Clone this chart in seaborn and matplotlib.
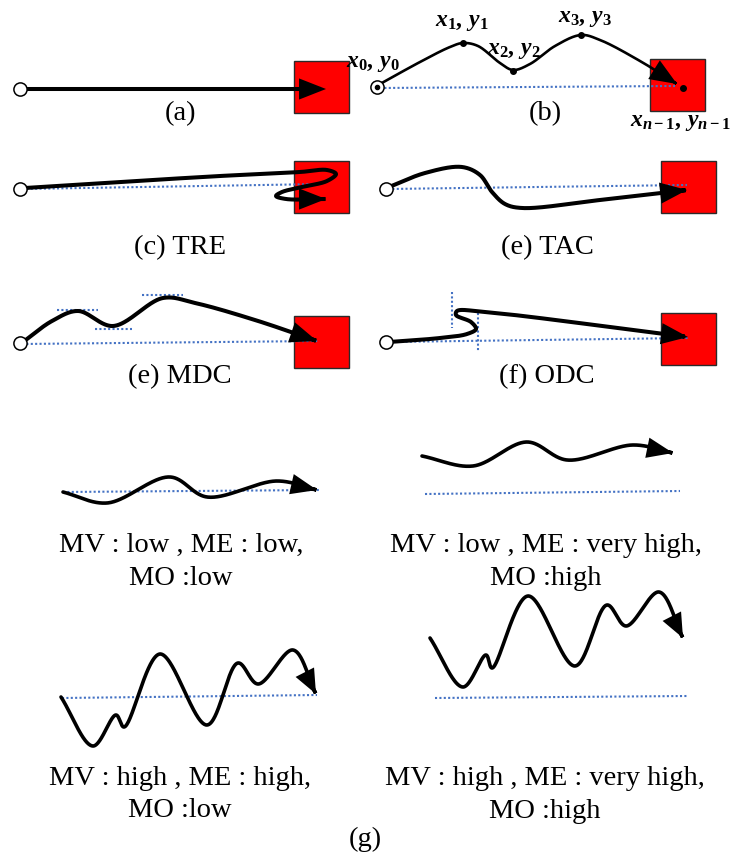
import numpy as np
import matplotlib
matplotlib.use("Agg")
import matplotlib.pyplot as plt
import seaborn as sns
from matplotlib.patches import Rectangle, FancyArrowPatch
from matplotlib.path import Path

# ---------------- data (pixel-space control points) ----------------
A_PATH = [(25, 89), (326, 89)]
B_PATH = [(380, 84), (420, 62), (450, 47), (463, 43), (478, 46), (500, 63), (513, 70),
          (530, 64), (555, 46), (581, 35), (600, 40), (640, 61), (677, 84)]
B_POINTS_X = [463, 513, 581, 683]
B_POINTS_Y = [43, 71, 35, 88]
B_LABELS = [r"$x_0,\,y_0$", r"$x_1,\,y_1$", r"$x_2,\,y_2$", r"$x_3,\,y_3$", r"$x_{n-1},\,y_{n-1}$"]
B_LABEL_X = [373, 462, 514, 585, 681]
B_LABEL_Y = [63, 22, 50, 18, 122]

TRE_PATH = [(25, 188), (120, 182), (220, 176), (300, 172), (327, 170), (336, 174),
            (327, 181), (302, 187), (282, 192), (276, 196), (286, 199), (326, 199)]
TAC_PATH = [(389, 187), (425, 173), (462, 167), (480, 175), (492, 192),
            (505, 204), (522, 208), (600, 200), (687, 190)]
MDC_PATH = [(23, 342), (52, 321), (78, 311), (113, 326), (163, 298),
            (195, 303), (255, 320), (317, 341)]
ODC_PATH = [(389, 342), (440, 338), (467, 334), (476, 329), (471, 322), (456, 315),
            (457, 311), (485, 312), (688, 337)]

G1_PATH = [(63, 492), (107, 503), (170, 477), (207, 497), (277, 481), (317, 490)]
G2_PATH = [(422, 456), (473, 466), (527, 442), (567, 460), (633, 445), (673, 453)]
G3_PATH = [(61, 697), (93, 746), (116, 715), (124, 727), (160, 654),
           (207, 725), (238, 663), (258, 684), (293, 650), (316, 694)]
G4_PATH = [(430, 638), (463, 687), (486, 655), (492, 668), (528, 596),
           (575, 666), (607, 605), (626, 626), (659, 592), (683, 638)]

DOTTED_LINES = [
    [(380, 88), (675, 86)],          # b
    [(22, 189), (322, 184)],         # c
    [(388, 189), (687, 185)],        # TAC
    [(22, 344), (318, 341)],         # MDC base
    [(57, 310), (98, 310)],
    [(95, 329), (132, 329)],
    [(142, 295), (183, 295)],
    [(388, 342), (688, 338)],        # ODC base
    [(452, 292), (452, 328)],
    [(478, 313), (478, 352)],
    [(63, 492), (320, 490)],         # g1
    [(425, 494), (680, 491)],        # g2
    [(62, 698), (317, 695)],         # g3
    [(435, 698), (688, 696)],        # g4
]

START_X = [20, 377, 20, 386, 20, 386]
START_Y = [89, 87, 189, 189, 343, 342]

SQUARE_X = [321.5, 677.5, 321.5, 688, 321.5, 688]
SQUARE_Y = [87, 85, 186.5, 186.5, 341.5, 339]

PANEL_LABELS = ["(a)", "(b)", "(c) TRE", "(e) TAC", "(e) MDC", "(f) ODC"]
PANEL_LABEL_X = [180, 545, 180, 547, 180, 547]
PANEL_LABEL_Y = [114, 114, 248, 248, 377, 377]

G_LINE1 = ["MV : low , ME : low,", "MV : low , ME : very high,",
           "MV : high , ME : high,", "MV : high , ME : very high,"]
G_LINE2 = ["MO :low", "MO :high", "MO :low", "MO :high"]
G_TEXT_X = [181, 546, 180, 545]
G_LINE1_Y = [552, 552, 785, 785]
G_LINE2_Y = [585, 585, 817, 818]


# ---------------- helpers ----------------
def smooth(pts, n=60, alpha=0.5):
    """Centripetal Catmull-Rom spline through the control points."""
    P = np.asarray(pts, float)
    P = np.vstack([2 * P[0] - P[1], P, 2 * P[-1] - P[-2]])
    out = []
    for i in range(1, len(P) - 2):
        p0, p1, p2, p3 = P[i - 1], P[i], P[i + 1], P[i + 2]
        t0 = 0.0
        t1 = t0 + np.linalg.norm(p1 - p0) ** alpha
        t2 = t1 + np.linalg.norm(p2 - p1) ** alpha
        t3 = t2 + np.linalg.norm(p3 - p2) ** alpha
        t = np.linspace(t1, t2, n, endpoint=False)[:, None]
        A1 = (t1 - t) / (t1 - t0) * p0 + (t - t0) / (t1 - t0) * p1
        A2 = (t2 - t) / (t2 - t1) * p1 + (t - t1) / (t2 - t1) * p2
        A3 = (t3 - t) / (t3 - t2) * p2 + (t - t2) / (t3 - t2) * p3
        B1 = (t2 - t) / (t2 - t0) * A1 + (t - t0) / (t2 - t0) * A2
        B2 = (t3 - t) / (t3 - t1) * A2 + (t - t1) / (t3 - t1) * A3
        out.append((t2 - t) / (t2 - t1) * B1 + (t - t1) / (t2 - t1) * B2)
    out.append(P[-2][None, :])
    return np.vstack(out)


def draw_curve(ax, pts, lw=2.7, head_len=14, head_w=5.5):
    c = smooth(pts)
    s = np.r_[0, np.cumsum(np.hypot(*np.diff(c, axis=0).T))]
    L = s[-1]
    body = c[s <= L - 8]
    sns.lineplot(x=body[:, 0], y=body[:, 1], sort=False, estimator=None,
                 color="black", lw=lw, ax=ax, solid_capstyle="round",
                 solid_joinstyle="round", zorder=3)
    i = max(np.searchsorted(s, L - 20) - 1, 0)
    tip = c[i:]
    arr = FancyArrowPatch(path=Path(tip),
                          arrowstyle=f"-|>,head_length={head_len},head_width={head_w}",
                          mutation_scale=1, lw=lw, color="black", zorder=3,
                          joinstyle="miter")
    ax.add_patch(arr)


# ---------------- figure ----------------
sns.set_theme(style="white")
plt.rcParams["font.family"] = ["Liberation Serif", "DejaVu Serif"]
plt.rcParams["mathtext.fontset"] = "custom"
plt.rcParams["mathtext.it"] = "Liberation Serif:italic:bold"
plt.rcParams["mathtext.rm"] = "Liberation Serif:bold"
plt.rcParams["mathtext.bf"] = "Liberation Serif:bold"

fig = plt.figure(figsize=(7.3, 8.56), dpi=100)
fig.patch.set_facecolor("white")
ax = fig.add_axes([0, 0, 1, 1])
ax.set_facecolor("white")

# red target squares
for cx, cy in zip(SQUARE_X, SQUARE_Y):
    ax.add_patch(Rectangle((cx - 27.5, cy - 26), 55, 52, facecolor="#ff0000",
                           edgecolor="#2a2a2a", lw=1.0, zorder=1))

# dotted blue reference lines
for seg in DOTTED_LINES:
    xs, ys = zip(*seg)
    sns.lineplot(x=list(xs), y=list(ys), sort=False, estimator=None, color="#4472c4",
                 lw=1.5, linestyle=(0, (1, 1.1)), ax=ax, zorder=2)

# trajectories
draw_curve(ax, A_PATH, lw=2.9)
draw_curve(ax, B_PATH, lw=1.9, head_len=16, head_w=6.5)
draw_curve(ax, TRE_PATH, lw=2.9)
draw_curve(ax, TAC_PATH, lw=2.9)
draw_curve(ax, MDC_PATH, lw=2.9)
draw_curve(ax, ODC_PATH, lw=2.9)
draw_curve(ax, G1_PATH, lw=2.6, head_len=14, head_w=5.5)
draw_curve(ax, G2_PATH, lw=2.6, head_len=14, head_w=5.5)
draw_curve(ax, G3_PATH, lw=2.6, head_len=13, head_w=5.5)
draw_curve(ax, G4_PATH, lw=2.6, head_len=13, head_w=5.5)

# start circles
ax.plot(START_X, START_Y, ls="none", marker="o", ms=9.5, mfc="white", mec="black",
        mew=1.1, zorder=5)
ax.plot([START_X[1]], [START_Y[1]], ls="none", marker="o", ms=3, color="black", zorder=6)

# sample points in (b)
ax.plot(B_POINTS_X, B_POINTS_Y, ls="none", marker="o", ms=4, color="black", zorder=6)
for lab, x, y in zip(B_LABELS, B_LABEL_X, B_LABEL_Y):
    ax.text(x, y, lab, fontsize=17, ha="center", va="center", color="black", zorder=7)

# panel labels
for lab, x, y in zip(PANEL_LABELS, PANEL_LABEL_X, PANEL_LABEL_Y):
    ax.text(x, y, lab, fontsize=20.5, ha="center", va="center", color="black")

for l1, l2, x, y1, y2 in zip(G_LINE1, G_LINE2, G_TEXT_X, G_LINE1_Y, G_LINE2_Y):
    ax.text(x, y1, l1, fontsize=20.5, ha="center", va="baseline", color="black")
    ax.text(x, y2, l2, fontsize=20.5, ha="center", va="baseline", color="black")

ax.text(365, 846, "(g)", fontsize=20.5, ha="center", va="baseline", color="black")

ax.set_xlim(0, 730)
ax.set_ylim(856, 0)
ax.axis("off")
if ax.get_legend() is not None:
    ax.get_legend().remove()

fig.savefig("out.png", dpi=100, facecolor="white")
